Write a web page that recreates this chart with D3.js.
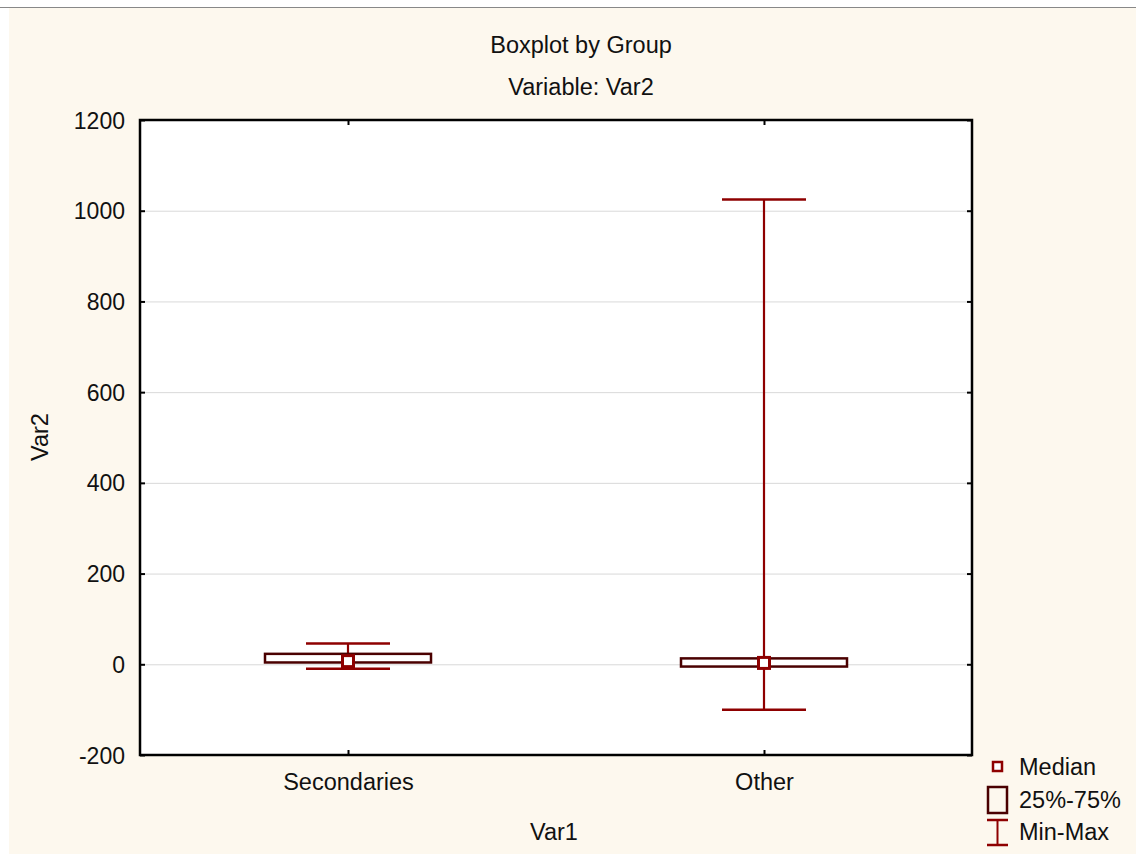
<!DOCTYPE html>
<html><head><meta charset="utf-8">
<script src="https://cdn.jsdelivr.net/npm/d3@7"></script>
<style>
html,body{margin:0;padding:0;background:#fff;}
svg{display:block;}
text{font-family:"Liberation Sans",Arial,sans-serif;fill:#111;}
</style></head>
<body>
<svg id="c" width="1136" height="854"></svg>
<script>
// Data
const categories = ["Secondaries", "Other"];
const mins = [-10, -100];
const q1s = [4, -5];
const medians = [7, 3];
const q3s = [23, 13];
const maxs = [46, 1025];
const yTicks = [-200, 0, 200, 400, 600, 800, 1000, 1200];
const legendLabels = ["Median", "25%-75%", "Min-Max"];

const FONT = '"Liberation Sans",Arial,sans-serif';
const svg = d3.select("#c");
const W = 1136, H = 854;
svg.append("rect").attr("x", 0).attr("y", 0).attr("width", W).attr("height", H).attr("fill", "#ffffff");
svg.append("rect").attr("x", 9).attr("y", 8).attr("width", W - 9).attr("height", H - 8).attr("fill", "#fdf8ee");
svg.append("line").attr("x1", 0).attr("x2", W).attr("y1", 7.5).attr("y2", 7.5).attr("stroke", "#888").attr("stroke-width", 1);

const L = 140, R = 972, T = 120, B = 755;
const y = d3.scaleLinear().domain([-200, 1200]).range([B, T]);
const x = d3.scalePoint().domain(categories).range([L, R]).padding(0.5);

svg.append("rect").attr("x", L).attr("y", T).attr("width", R - L).attr("height", B - T).attr("fill", "#fff");

// gridlines
svg.append("g").selectAll("line").data(yTicks.filter(t => t > -200 && t < 1200)).join("line")
  .attr("x1", L).attr("x2", R).attr("y1", d => y(d) + 0.5).attr("y2", d => y(d) + 0.5)
  .attr("stroke", "#d9d9d9").attr("stroke-width", 1);

// axes
const yAxisL = d3.axisLeft(y).tickValues(yTicks).tickSize(-5).tickPadding(15).tickFormat(d => String(d));
const gL = svg.append("g").attr("transform", `translate(${L},0)`).call(yAxisL);
const yAxisR = d3.axisRight(y).tickValues(yTicks).tickSize(-5).tickFormat("");
const gR = svg.append("g").attr("transform", `translate(${R},0)`).call(yAxisR);
const xAxisB = d3.axisBottom(x).tickSize(-5);
const gB = svg.append("g").attr("transform", `translate(0,${B})`).call(xAxisB);
const xAxisT = d3.axisTop(x).tickSize(-5).tickFormat("");
const gT = svg.append("g").attr("transform", `translate(0,${T})`).call(xAxisT);
[gL, gR, gB, gT].forEach(g => {
  g.attr("font-size", null).attr("font-family", null);
  g.select(".domain").remove();
  g.selectAll(".tick line").attr("stroke", "#000").attr("stroke-width", 2);
  g.selectAll("text").style("font-size", "23px").attr("fill", "#111").style("font-family", FONT);
});
gL.selectAll(".tick text").attr("dy", "0.35em");
gB.selectAll(".tick text").attr("y", 35).attr("dy", 0).style("font-size", "23.5px");

// boxes
const whiskerColor = "#8e0000";
const boxColor = "#4a0000";
const boxHalf = 83, capHalf = 42;
const g = svg.append("g");
categories.forEach((c, i) => {
  const cx = x(c);
  g.append("line").attr("x1", cx).attr("x2", cx).attr("y1", y(maxs[i])).attr("y2", y(mins[i]))
    .attr("stroke", whiskerColor).attr("stroke-width", 2.2);
  [maxs[i], mins[i]].forEach(v => {
    g.append("line").attr("x1", cx - capHalf).attr("x2", cx + capHalf).attr("y1", y(v)).attr("y2", y(v))
      .attr("stroke", whiskerColor).attr("stroke-width", 2.5);
  });
  g.append("rect").attr("x", cx - boxHalf).attr("width", 2 * boxHalf)
    .attr("y", y(q3s[i])).attr("height", y(q1s[i]) - y(q3s[i]))
    .attr("fill", "#fff").attr("stroke", boxColor).attr("stroke-width", 2.5);
  g.append("rect").attr("x", cx - 5.5).attr("y", y(medians[i]) - 5.5).attr("width", 11).attr("height", 11)
    .attr("fill", "#fff").attr("stroke", whiskerColor).attr("stroke-width", 3);
});

// frame
svg.append("rect").attr("x", L).attr("y", T).attr("width", R - L).attr("height", B - T)
  .attr("fill", "none").attr("stroke", "#000").attr("stroke-width", 2.5);

// titles
const addText = (sel) => sel.style("font-size", "23.5px").style("font-family", FONT).attr("fill", "#111");
addText(svg.append("text").attr("x", 581).attr("y", 53).attr("text-anchor", "middle").text("Boxplot by Group"));
addText(svg.append("text").attr("x", 581).attr("y", 95).attr("text-anchor", "middle").text("Variable: Var2"));
addText(svg.append("text").attr("x", 554).attr("y", 840).attr("text-anchor", "middle").text("Var1"));
addText(svg.append("text").attr("transform", "translate(48,437) rotate(-90)").attr("text-anchor", "middle").text("Var2"));

// legend
const lg = svg.append("g");
lg.append("rect").attr("x", 993).attr("y", 762).attr("width", 9).attr("height", 9)
  .attr("fill", "#fff").attr("stroke", whiskerColor).attr("stroke-width", 2.5);
lg.append("rect").attr("x", 988).attr("y", 787).attr("width", 19).attr("height", 26)
  .attr("fill", "none").attr("stroke", boxColor).attr("stroke-width", 2.5);
lg.append("line").attr("x1", 997.5).attr("x2", 997.5).attr("y1", 820).attr("y2", 845).attr("stroke", whiskerColor).attr("stroke-width", 2);
lg.append("line").attr("x1", 987).attr("x2", 1008).attr("y1", 820).attr("y2", 820).attr("stroke", whiskerColor).attr("stroke-width", 2.5);
lg.append("line").attr("x1", 987).attr("x2", 1008).attr("y1", 845).attr("y2", 845).attr("stroke", whiskerColor).attr("stroke-width", 2.5);
const ly = [767, 800, 832];
legendLabels.forEach((t, i) => {
  addText(lg.append("text").attr("x", 1019).attr("y", ly[i]).attr("dy", "0.35em").text(t));
});
</script>
</body></html>
